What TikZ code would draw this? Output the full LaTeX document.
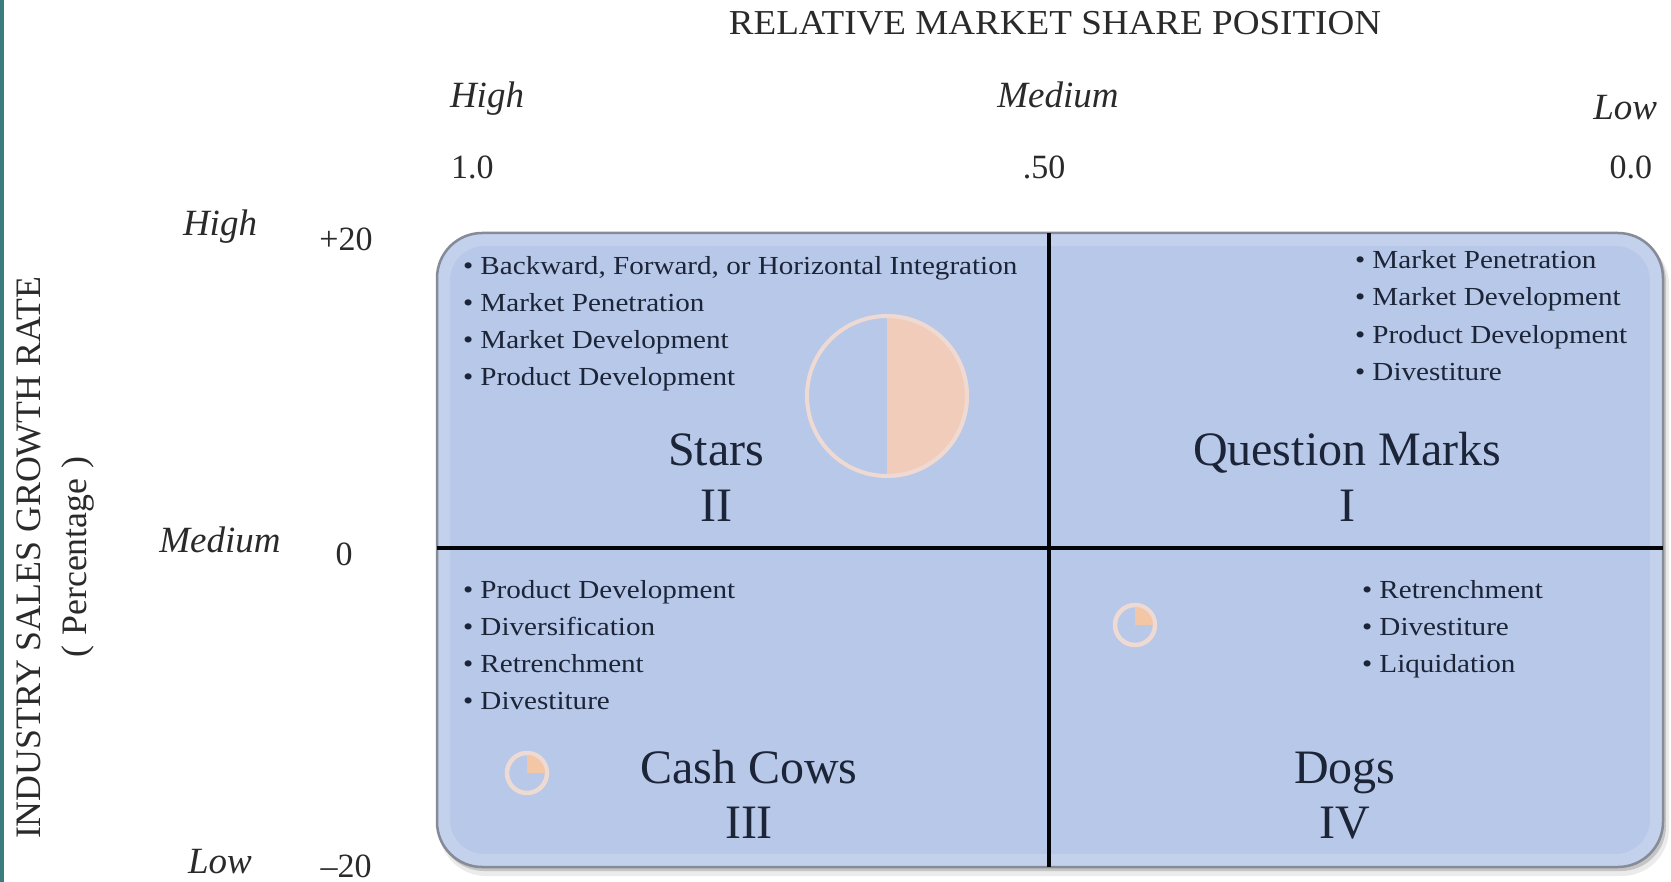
\documentclass[tikz,border=0pt]{standalone}
\usepackage{fontspec}
\setmainfont{Liberation Serif}
\newfontfamily\bltfont[FakeStretch=1.12]{Liberation Serif}
\newfontfamily\capfont[FakeStretch=1.06]{Liberation Serif}
\definecolor{boxfill}{HTML}{B8C8E8}
\definecolor{boxedge}{HTML}{858B97}
\definecolor{ink}{HTML}{1C2438}
\definecolor{axink}{HTML}{2A2A2A}
\definecolor{peach}{HTML}{F2CCBA}
\definecolor{peachring}{HTML}{EFD9D3}
\definecolor{orangepeach}{HTML}{F3C6A6}
\definecolor{tealbar}{HTML}{3B7D7E}
\begin{document}
\begin{tikzpicture}[x=1pt,y=-1pt,
  every node/.style={inner sep=0pt, outer sep=0pt},
  blt/.style={anchor=base west, text=ink, font=\bltfont\fontsize{26}{30}\selectfont},
  quad/.style={anchor=base, text=ink, font=\fontsize{48}{52}\selectfont},
  axlab/.style={text=axink, font=\fontsize{37}{40}\selectfont\itshape},
  num/.style={text=axink, font=\fontsize{34}{40}\selectfont},
  captxt/.style={text=axink, font=\capfont\fontsize{35}{40}\selectfont},
  vcaptxt/.style={text=axink, font=\fontsize{35.8}{40}\selectfont},
  divider/.style={draw=black!85!ink, line width=4.5pt},
]
\useasboundingbox (0,0) rectangle (1671,882);
\fill[white] (0,0) rectangle (1671,882);
\fill[tealbar] (0,0) rectangle (4,882);

% titles
\node[captxt, anchor=base] (title) at (1055,35) {RELATIVE MARKET SHARE POSITION};
\node[vcaptxt, rotate=90] (ytitle) at (29,558) {INDUSTRY SALES GROWTH RATE};
\node[vcaptxt, rotate=90] (ysub) at (78,557) {(\hspace{10pt}Percentage\hspace{10pt})};

% top axis labels
\node[axlab, anchor=base west] (xhigh) at (450,108) {High};
\node[axlab, anchor=base] (xmed) at (1058,108) {Medium};
\node[axlab, anchor=base east] (xlow) at (1657,120) {Low};
\node[num, anchor=base west] (x10) at (451,179) {1.0};
\node[num, anchor=base] (x05) at (1044,179) {.50};
\node[num, anchor=base east] (x00) at (1652,179) {0.0};

% left axis labels
\node[axlab, anchor=base] (yhigh) at (220,236) {High};
\node[axlab, anchor=base] (ymed) at (220,552) {Medium};
\node[axlab, anchor=base] (ylow) at (220,873) {Low};
\node[num, anchor=base] (yp20) at (346,251) {+20};
\node[num, anchor=base] (y0) at (344,565) {0};
\node[num, anchor=base] (ym20) at (346,877) {–20};

% box with shadow
\fill[black, opacity=0.08, rounded corners=47pt] (439,238) rectangle (1669,876);
\fill[black, opacity=0.16, rounded corners=45pt] (439,236) rectangle (1666,871);
\fill[boxfill, rounded corners=45pt] (437,233) rectangle (1663,867);
\draw[white, opacity=0.18, line width=12pt, rounded corners=40pt] (444,240) rectangle (1656,860);
\draw[boxedge, line width=2.5pt, rounded corners=45pt] (437,233) rectangle (1663,867);

% dividers
\coordinate (vtop) at (1049,233);
\coordinate (vbot) at (1049,867);
\coordinate (hleft) at (437,548);
\coordinate (hright) at (1663,548);
\draw[divider] (vtop) -- (vbot);
\draw[divider] (hleft) -- (hright);

% Stars circle
\fill[peach] (887,314) arc[start angle=-90, end angle=90, radius=82] -- cycle;
\draw[peachring, line width=4pt] (887,396) circle[radius=80];

% small pies
\draw[peachring, line width=4.5pt] (527,773) circle[radius=20];
\fill[orangepeach] (527,773) -- (527,755) arc[start angle=-90, end angle=0, radius=18] -- cycle;
\draw[peachring, line width=4.5pt] (1135,625) circle[radius=20];
\fill[orangepeach] (1135,625) -- (1135,607) arc[start angle=-90, end angle=0, radius=18] -- cycle;

% Stars bullets
\node[blt] (s1) at (463,275) {\textbullet\ Backward, Forward, or Horizontal Integration};
\node[blt] (s2) at (463,312) {\textbullet\ Market Penetration};
\node[blt] (s3) at (463,349) {\textbullet\ Market Development};
\node[blt] (s4) at (463,386) {\textbullet\ Product Development};
\node[quad] (stars) at (716,465) {Stars};
\node[quad] (starsn) at (716,521) {II};

% Question marks bullets
\node[blt] (q1) at (1355,269) {\textbullet\ Market Penetration};
\node[blt] (q2) at (1355,306) {\textbullet\ Market Development};
\node[blt] (q3) at (1355,344) {\textbullet\ Product Development};
\node[blt] (q4) at (1355,381) {\textbullet\ Divestiture};
\node[quad] (qm) at (1347,465) {Question Marks};
\node[quad] (qmn) at (1347,521) {I};

% Cash cows bullets
\node[blt] (c1) at (463,598) {\textbullet\ Product Development};
\node[blt] (c2) at (463,635) {\textbullet\ Diversification};
\node[blt] (c3) at (463,672) {\textbullet\ Retrenchment};
\node[blt] (c4) at (463,709) {\textbullet\ Divestiture};
\node[quad] (cc) at (749,783) {Cash Cows};
\node[quad] (ccn) at (749,838) {III};

% Dogs bullets
\node[blt] (d1) at (1362,598) {\textbullet\ Retrenchment};
\node[blt] (d2) at (1362,635) {\textbullet\ Divestiture};
\node[blt] (d3) at (1362,672) {\textbullet\ Liquidation};
\node[quad] (dogs) at (1345,783) {Dogs};
\node[quad] (dogsn) at (1345,838) {IV};
\end{tikzpicture}
\end{document}
